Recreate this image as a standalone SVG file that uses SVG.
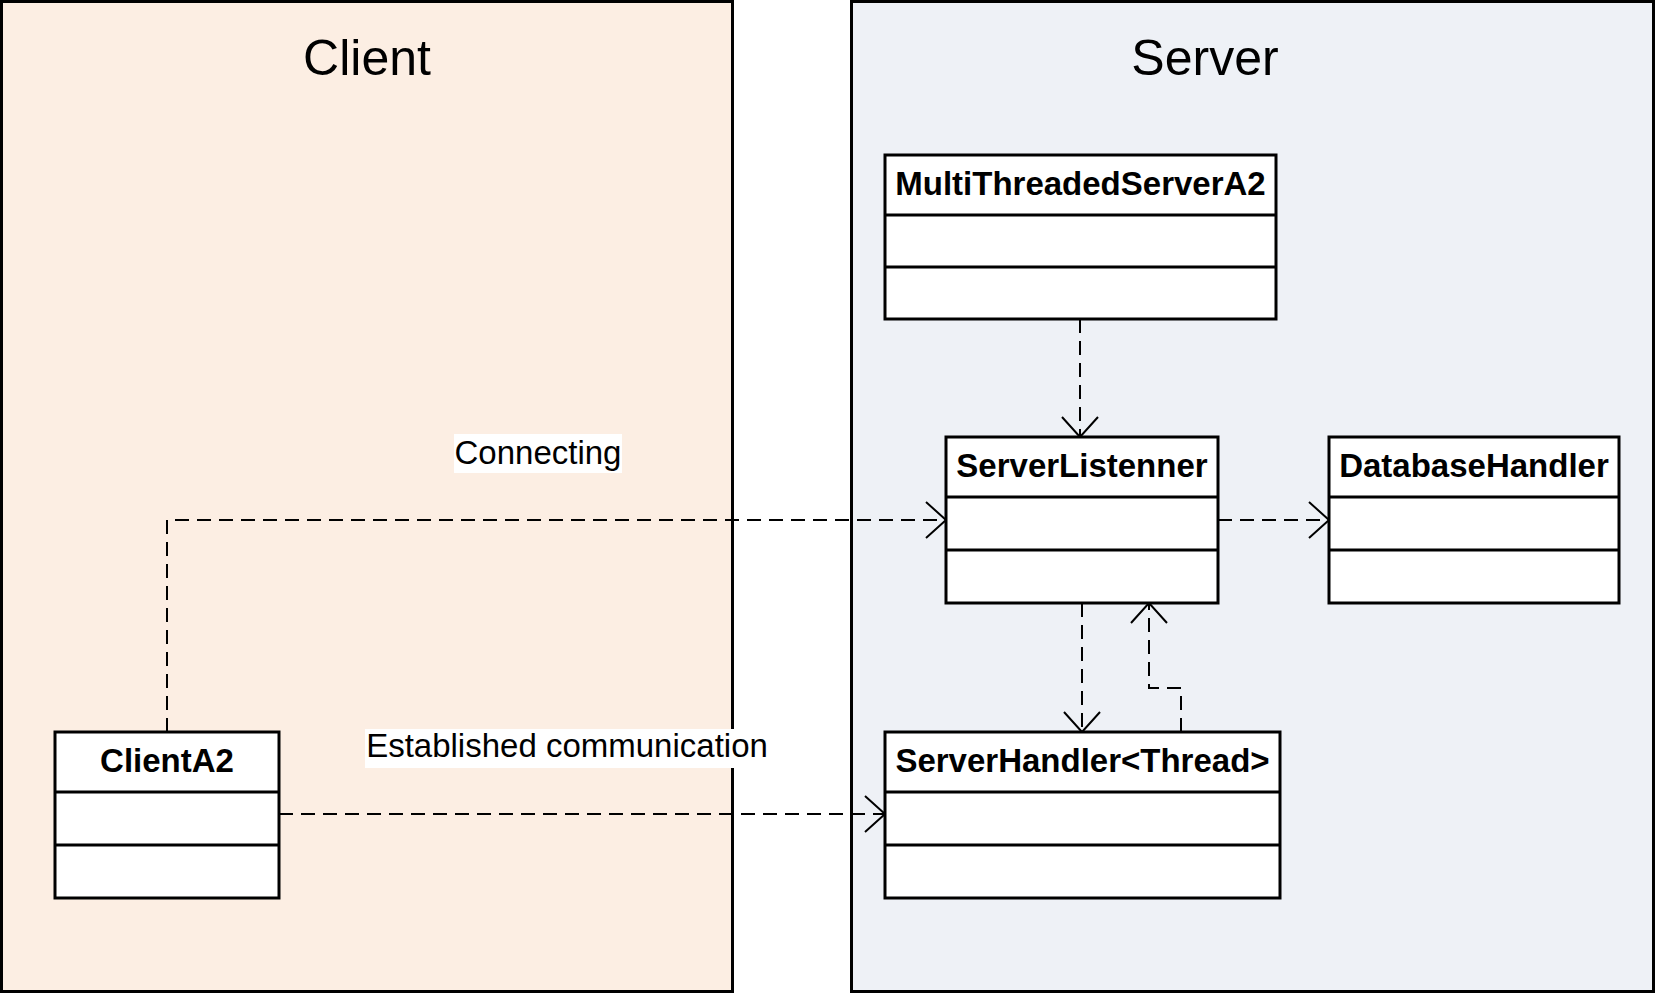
<svg xmlns="http://www.w3.org/2000/svg" width="1656" height="994" viewBox="0 0 1656 994">
<style>
.panel{stroke:#000;stroke-width:3}
.box{fill:#fff;stroke:#000;stroke-width:3}
.div{stroke:#000;stroke-width:3}
.title{font-family:"Liberation Sans",Arial,sans-serif;font-size:50px;fill:#000;text-anchor:middle}
.cls{font-family:"Liberation Sans",Arial,sans-serif;font-size:33px;font-weight:bold;fill:#000;text-anchor:middle}
.lbl{font-family:"Liberation Sans",Arial,sans-serif;font-size:33px;fill:#000;text-anchor:middle}
.conn{fill:none;stroke:#000;stroke-width:2;stroke-dasharray:14 8}
</style>
<defs>
<marker id="open" markerUnits="userSpaceOnUse" markerWidth="30" markerHeight="44" refX="0" refY="0" viewBox="-24 -22 28 44" orient="auto" overflow="visible">
<path d="M-20,-18 L0,0 L-20,18" fill="none" stroke="#000" stroke-width="2" stroke-dasharray="none"/>
</marker>
</defs>
<rect width="1656" height="994" fill="#fff"/>
<g id="client-panel">
<rect class="panel" x="1.5" y="1.5" width="731" height="990" fill="#FCEEE3"/>
<text class="title" x="367" y="75">Client</text>
</g>
<g id="server-panel">
<rect class="panel" x="851.5" y="1.5" width="802" height="990" fill="#EEF1F6"/>
<text class="title" x="1205" y="75">Server</text>
</g>
<g id="connectors">
<path class="conn" d="M1080,319 L1080,437" marker-end="url(#open)"/>
<path class="conn" d="M167,732 L167,520 L946,520" marker-end="url(#open)"/>
<path class="conn" d="M1218,520 L1329,520" marker-end="url(#open)"/>
<path class="conn" d="M1082,603 L1082,732" marker-end="url(#open)"/>
<path class="conn" d="M1181,732 L1181,688 L1149,688 L1149,603" marker-end="url(#open)"/>
<path class="conn" d="M279,814 L885,814" marker-end="url(#open)"/>
</g>
<g id="label-connecting">
<rect x="454" y="434" width="168" height="39" fill="#fff"/>
<text class="lbl" x="538" y="464">Connecting</text>
</g>
<g id="label-established">
<rect x="365" y="729" width="404" height="39" fill="#fff"/>
<text class="lbl" x="567" y="757">Established communication</text>
</g>
<g id="MultiThreadedServerA2">
<rect class="box" x="885" y="155" width="391" height="164"/>
<line class="div" x1="885" y1="215" x2="1276" y2="215"/>
<line class="div" x1="885" y1="267" x2="1276" y2="267"/>
<text class="cls" x="1080.5" y="195">MultiThreadedServerA2</text>
</g>
<g id="ServerListenner">
<rect class="box" x="946" y="437" width="272" height="166"/>
<line class="div" x1="946" y1="497" x2="1218" y2="497"/>
<line class="div" x1="946" y1="550" x2="1218" y2="550"/>
<text class="cls" x="1082" y="477">ServerListenner</text>
</g>
<g id="DatabaseHandler">
<rect class="box" x="1329" y="437" width="290" height="166"/>
<line class="div" x1="1329" y1="497" x2="1619" y2="497"/>
<line class="div" x1="1329" y1="550" x2="1619" y2="550"/>
<text class="cls" x="1474" y="477">DatabaseHandler</text>
</g>
<g id="ClientA2">
<rect class="box" x="55" y="732" width="224" height="166"/>
<line class="div" x1="55" y1="792" x2="279" y2="792"/>
<line class="div" x1="55" y1="845" x2="279" y2="845"/>
<text class="cls" x="167" y="772">ClientA2</text>
</g>
<g id="ServerHandler">
<rect class="box" x="885" y="732" width="395" height="166"/>
<line class="div" x1="885" y1="792" x2="1280" y2="792"/>
<line class="div" x1="885" y1="845" x2="1280" y2="845"/>
<text class="cls" x="1082.5" y="772">ServerHandler&lt;Thread&gt;</text>
</g>
</svg>
